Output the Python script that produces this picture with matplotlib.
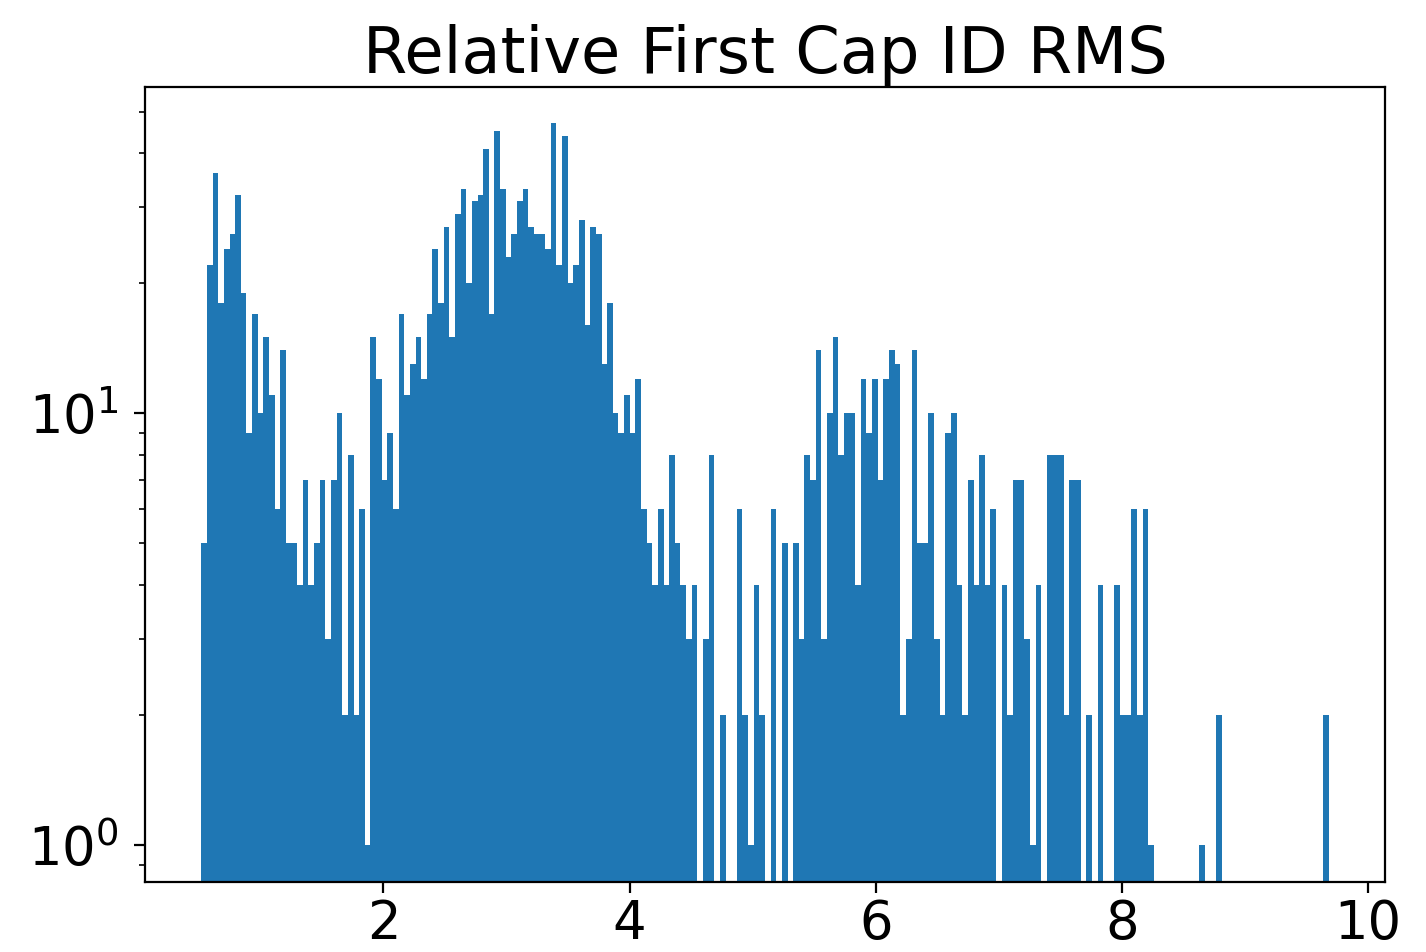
import numpy as np
import matplotlib
matplotlib.use('Agg')
import matplotlib.pyplot as plt

# bin range and counts (200 equal bins)
BIN_LO = 0.52
BIN_HI = 9.68
N_BINS = 200

counts_a = [5, 22, 36, 18, 24, 26, 32, 19, 9, 17, 10, 15, 11, 6, 14, 5, 5, 4, 7, 4,
            5, 7, 3, 7, 10, 2, 8, 2, 6, 1, 15, 12, 7, 9, 6, 17, 11, 13, 15]
counts_b = [12, 17, 24, 18, 27, 15, 29, 33, 20, 31, 32, 41, 17, 45, 33, 23, 26, 31, 33, 27,
            26, 26, 24, 47, 22, 44, 20, 22, 28, 16, 27, 26, 13, 18, 10, 9, 11, 9, 12, 6]
counts_c = [5, 4, 6, 4, 8, 5, 4, 3, 4, 0, 3, 8, 0, 2, 0, 0, 6, 2, 1,
            4, 2, 0, 6, 0, 5, 0, 5, 3, 8, 7, 14, 3, 10, 15, 8, 10, 10, 4, 12]
counts_d = [9, 12, 7, 12, 14, 13, 2, 3, 14, 5, 5, 10, 3, 2, 9, 10, 4, 2, 7,
            4, 8, 4, 6, 0, 4, 2, 7, 7, 3, 1, 4, 0, 8, 8, 8, 2, 7, 7]
counts_e = [0, 2, 0, 4, 0, 0, 4, 2, 2, 6, 2, 6, 1,
            0, 0, 0, 0, 0, 0, 0, 0,
            1, 0, 0, 2] + [0] * 18 + [2]

counts = np.array(counts_a + counts_b + counts_c + counts_d + counts_e, dtype=float)
edges = np.linspace(BIN_LO, BIN_HI, N_BINS + 1)
centers = 0.5 * (edges[:-1] + edges[1:])

plt.rcParams['axes.linewidth'] = 1.6

fig = plt.figure(figsize=(14.26, 9.52), dpi=100)
ax = fig.add_axes([145 / 1426, 70 / 952, 1240 / 1426, 795 / 952])

ax.hist(centers, bins=edges, weights=counts, color='#1f77b4')
ax.set_yscale('log')
ax.set_ylim(0.82, 57)
ax.set_xticks([2, 4, 6, 8, 10])

ax.tick_params(which='major', labelsize=38, length=8, width=1.6)
ax.tick_params(which='minor', length=4.5, width=1.2)
ax.tick_params(axis='y', which='major', pad=11)
ax.set_title('Relative First Cap ID RMS', fontsize=46, pad=10)

fig.savefig('out.png', dpi=100)
plt.close()
